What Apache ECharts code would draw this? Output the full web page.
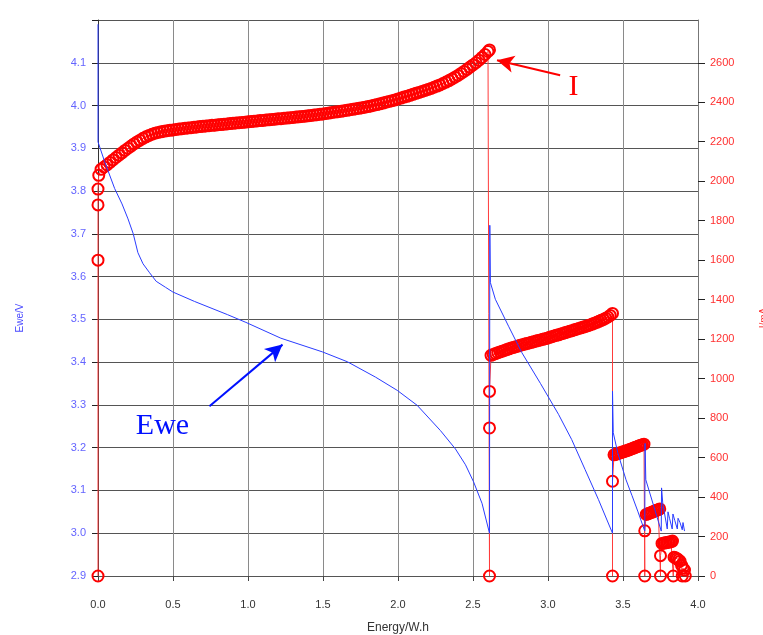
<!DOCTYPE html>
<html>
<head>
<meta charset="utf-8">
<script src="https://cdn.jsdelivr.net/npm/echarts@6/dist/echarts.min.js"></script>
<style>html,body{margin:0;padding:0;background:#fff}#c{width:763px;height:635px}</style>
</head>
<body>
<div id="c"></div>
<script>
// Axis ticks
const xTicks = [0, 0.5, 1.0, 1.5, 2.0, 2.5, 3.0, 3.5, 4.0];
const eweTicks = [2.9, 3.0, 3.1, 3.2, 3.3, 3.4, 3.5, 3.6, 3.7, 3.8, 3.9, 4.0, 4.1];
const iTicks = [0, 200, 400, 600, 800, 1000, 1200, 1400, 1600, 1800, 2000, 2200, 2400, 2600];

// Ewe/V vs Energy/W.h
const ewe = [
  [0, 4.19], [0, 3.915], [0.044, 3.869], [0.111, 3.806], [0.16, 3.77], [0.2, 3.735], [0.235, 3.7],
  [0.266, 3.656], [0.3, 3.63], [0.344, 3.609], [0.388, 3.589], [0.45, 3.575], [0.499, 3.564],
  [0.643, 3.542], [0.864, 3.511], [0.986, 3.493], [1.219, 3.456], [1.496, 3.424], [1.662, 3.401],
  [1.85, 3.365], [1.995, 3.334], [2.128, 3.299], [2.283, 3.24], [2.383, 3.197], [2.45, 3.16],
  [2.504, 3.12], [2.56, 3.07], [2.61, 3.0],
  [2.612, 3.72], [2.616, 3.586], [2.649, 3.547], [2.737, 3.484], [2.826, 3.422], [2.95, 3.35],
  [3.07, 3.278], [3.158, 3.219], [3.247, 3.149], [3.336, 3.079], [3.43, 3.0],
  [3.43, 3.332], [3.435, 3.235], [3.465, 3.188], [3.52, 3.125], [3.56, 3.088], [3.60, 3.05],
  [3.645, 3.005],
  [3.647, 3.21], [3.652, 3.125], [3.755, 3.005],
  [3.757, 3.106], [3.765, 3.07], [3.795, 3.01], [3.80, 3.05], [3.81, 3.035], [3.828, 3.01],
  [3.833, 3.045], [3.845, 3.03], [3.862, 3.01], [3.867, 3.035], [3.88, 3.025], [3.895, 3.008],
  [3.90, 3.025], [3.91, 3.005]
];

// I/mA vs Energy/W.h, step by step
const iStep1 = [
  [0, 0], [0, 1600], [0, 1880], [0, 1960], [0.005, 2030], [0.02, 2060], [0.04, 2072], [0.06, 2083],
  [0.08, 2095], [0.10, 2108], [0.12, 2120], [0.14, 2132], [0.16, 2144], [0.18, 2156], [0.20, 2167],
  [0.22, 2178], [0.24, 2189], [0.26, 2199], [0.28, 2208], [0.30, 2217], [0.32, 2225], [0.34, 2232],
  [0.36, 2238], [0.38, 2243], [0.40, 2247], [0.42, 2250], [0.44, 2253], [0.46, 2256], [0.48, 2258],
  [0.50, 2260], [0.52, 2262], [0.54, 2264], [0.56, 2266], [0.58, 2268], [0.60, 2270], [0.62, 2271],
  [0.64, 2273], [0.66, 2275], [0.68, 2277], [0.70, 2278], [0.72, 2280], [0.74, 2281], [0.76, 2283],
  [0.78, 2284], [0.80, 2286], [0.82, 2287], [0.84, 2289], [0.86, 2290], [0.88, 2292], [0.90, 2293],
  [0.92, 2295], [0.94, 2296], [0.96, 2298], [0.98, 2299], [1.00, 2301], [1.02, 2302], [1.04, 2304],
  [1.06, 2305], [1.08, 2307], [1.10, 2308], [1.12, 2310], [1.14, 2311], [1.16, 2313], [1.18, 2314],
  [1.20, 2316], [1.22, 2317], [1.24, 2319], [1.26, 2320], [1.28, 2322], [1.30, 2323], [1.32, 2325],
  [1.34, 2326], [1.36, 2328], [1.38, 2329], [1.40, 2331], [1.42, 2333], [1.44, 2335], [1.46, 2337],
  [1.48, 2339], [1.50, 2341], [1.52, 2343], [1.54, 2345], [1.56, 2348], [1.58, 2350], [1.60, 2352],
  [1.62, 2354], [1.64, 2357], [1.66, 2359], [1.68, 2362], [1.70, 2364], [1.72, 2367], [1.74, 2369],
  [1.76, 2372], [1.78, 2375], [1.80, 2378], [1.82, 2381], [1.84, 2385], [1.86, 2388], [1.88, 2392],
  [1.90, 2396], [1.92, 2400], [1.94, 2404], [1.96, 2408], [1.98, 2412], [2.00, 2417], [2.02, 2421],
  [2.04, 2426], [2.06, 2430], [2.08, 2435], [2.10, 2440], [2.12, 2445], [2.14, 2450], [2.16, 2455],
  [2.18, 2460], [2.20, 2465], [2.22, 2470], [2.24, 2476], [2.26, 2482], [2.28, 2488], [2.30, 2495],
  [2.32, 2502], [2.34, 2510], [2.36, 2518], [2.38, 2527], [2.40, 2536], [2.42, 2546], [2.44, 2556],
  [2.46, 2567], [2.48, 2578], [2.50, 2589], [2.52, 2600], [2.54, 2613], [2.56, 2627], [2.58, 2642],
  [2.60, 2657], [2.61, 2665]
];
const iStep2 = [
  [2.61, 0], [2.61, 750], [2.61, 935], [2.620, 1118], [2.635, 1122], [2.650, 1127], [2.665, 1131],
  [2.680, 1135], [2.695, 1139], [2.710, 1143], [2.725, 1147], [2.740, 1151], [2.755, 1155],
  [2.770, 1158], [2.785, 1162], [2.800, 1165], [2.815, 1169], [2.830, 1172], [2.845, 1175],
  [2.860, 1178], [2.875, 1181], [2.890, 1184], [2.905, 1187], [2.920, 1190], [2.935, 1193],
  [2.950, 1196], [2.965, 1199], [2.980, 1202], [2.995, 1205], [3.010, 1209], [3.025, 1212],
  [3.040, 1216], [3.055, 1219], [3.070, 1222], [3.085, 1226], [3.100, 1229], [3.115, 1233],
  [3.130, 1236], [3.145, 1240], [3.160, 1243], [3.175, 1247], [3.190, 1250], [3.205, 1254],
  [3.220, 1257], [3.235, 1261], [3.250, 1264], [3.265, 1268], [3.280, 1272], [3.295, 1276],
  [3.310, 1281], [3.325, 1285], [3.340, 1290], [3.355, 1295], [3.370, 1300], [3.385, 1306],
  [3.400, 1312], [3.415, 1320], [3.430, 1330]
];
const iStep3 = [
  [3.43, 0], [3.43, 480], [3.44, 614], [3.45, 616], [3.46, 619], [3.47, 621], [3.48, 624], [3.49, 626],
  [3.50, 629], [3.51, 631], [3.52, 634], [3.53, 636], [3.54, 639], [3.55, 642], [3.56, 645],
  [3.57, 648], [3.58, 651], [3.59, 654], [3.60, 657], [3.61, 660], [3.62, 663], [3.63, 665], [3.64, 668]
];
const iStep4 = [
  [3.645, 0], [3.645, 229], [3.655, 312], [3.665, 315], [3.675, 318], [3.685, 321], [3.695, 324],
  [3.705, 327], [3.715, 330], [3.725, 333], [3.735, 336], [3.745, 340]
];
const iStep5 = [
  [3.75, 0], [3.75, 103], [3.76, 165], [3.77, 166], [3.78, 168], [3.79, 169], [3.80, 171],
  [3.81, 172], [3.82, 174], [3.83, 177]
];
const iStep6 = [
  [3.835, 0], [3.84, 95], [3.85, 92], [3.86, 88], [3.87, 82], [3.88, 75], [3.89, 55], [3.895, 0],
  [3.90, 40], [3.91, 30], [3.915, 0]
];

// Annotations (data coordinates on the Ewe axis)
const eweArrow = [[0.743, 3.297], [1.23, 3.441]];
const iArrow = [[3.081, 4.071], [2.66, 4.106]];
const eweText = [0.43, 3.25];
const iText = [3.17, 4.043];

const iData = [].concat(iStep1, iStep2, iStep3, iStep4, iStep5, iStep6);

const chart = echarts.init(document.getElementById('c'), null, {renderer: 'canvas'});
const lbl = {fontFamily: 'Liberation Sans, Arial, sans-serif', fontSize: 11};

chart.setOption({
  animation: false,
  backgroundColor: '#fff',
  grid: {left: 98, right: 65, top: 20, bottom: 59, containLabel: false, outerBoundsMode: 'none'},
  xAxis: {
    type: 'value', min: 0, max: 4, interval: 0.5, offset: 10,
    name: 'Energy/W.h', nameLocation: 'middle', nameGap: 36,
    nameTextStyle: Object.assign({color: '#333'}, lbl, {fontSize: 12}),
    axisLine: {show: false},
    axisTick: {show: true, length: 5, lineStyle: {color: '#444'}},
    axisLabel: Object.assign({color: '#333', margin: 13, formatter: v => v.toFixed(1)}, lbl),
    splitLine: {show: true, lineStyle: {color: '#8a8a8a', width: 1}}
  },
  yAxis: [
    {
      type: 'value', min: 2.9, max: 4.2, interval: 0.1,
      name: 'Ewe/V', nameLocation: 'middle', nameGap: 73, nameRotate: 90,
      nameTextStyle: Object.assign({color: '#4a4aff', padding: [0, 40, 0, 0]}, lbl, {fontSize: 10}),
      axisLine: {show: true, lineStyle: {color: '#333'}},
      axisTick: {show: true, length: 6, inside: false, lineStyle: {color: '#222'}},
      axisLabel: Object.assign({color: '#6464ff', margin: 12,
        formatter: v => (v > 4.15 ? '' : v.toFixed(1))}, lbl),
      splitLine: {show: true, lineStyle: {color: '#555', width: 1}}
    },
    {
      type: 'value', min: 0, max: 2816.67, position: 'right',
      name: 'I/mA', nameLocation: 'middle', nameGap: 61, nameRotate: 90,
      nameTextStyle: Object.assign({color: '#ff3030', padding: [0, 40, 0, 0]}, lbl, {fontSize: 10}),
      axisLine: {show: true, lineStyle: {color: '#777'}},
      axisTick: {show: true, length: 7, customValues: iTicks, lineStyle: {color: '#222'}},
      axisLabel: Object.assign({color: '#ff3030', margin: 12, customValues: iTicks,
        formatter: v => String(Math.round(v))}, lbl),
      splitLine: {show: false}
    }
  ],
  series: [
    {
      name: 'I', type: 'line', yAxisIndex: 1, data: iData,
      symbol: 'circle', symbolSize: 11, showAllSymbol: true,
      itemStyle: {color: 'rgba(0,0,0,0)', borderColor: '#ff0000', borderWidth: 2},
      lineStyle: {color: '#ff3b3b', width: 1},
      emphasis: {disabled: true}, z: 2
    },
    {
      name: 'Ewe', type: 'line', yAxisIndex: 0, data: ewe,
      symbol: 'none', lineStyle: {color: '#2a3cff', width: 1},
      emphasis: {disabled: true}, z: 3,
      markLine: {
        silent: true, symbol: ['none', 'arrow'], symbolSize: [13, 17],
        label: {show: false},
        data: [
          [{coord: eweArrow[0], lineStyle: {color: '#0010ff', width: 2, type: 'solid'}}, {coord: eweArrow[1]}],
          [{coord: iArrow[0], lineStyle: {color: '#ff0000', width: 2, type: 'solid'}}, {coord: iArrow[1]}]
        ]
      },
      markPoint: {
        silent: true, symbol: 'circle', symbolSize: 1,
        itemStyle: {color: 'rgba(0,0,0,0)'},
        data: [
          {coord: eweText, label: {show: true, position: 'inside', formatter: 'Ewe', color: '#0010ff',
            fontFamily: 'Liberation Serif, Times New Roman, serif', fontSize: 30}},
          {coord: iText, label: {show: true, position: 'inside', formatter: 'I', color: '#ff0000',
            fontFamily: 'Liberation Serif, Times New Roman, serif', fontSize: 30}}
        ]
      }
    }
  ]
});
</script>
</body>
</html>
